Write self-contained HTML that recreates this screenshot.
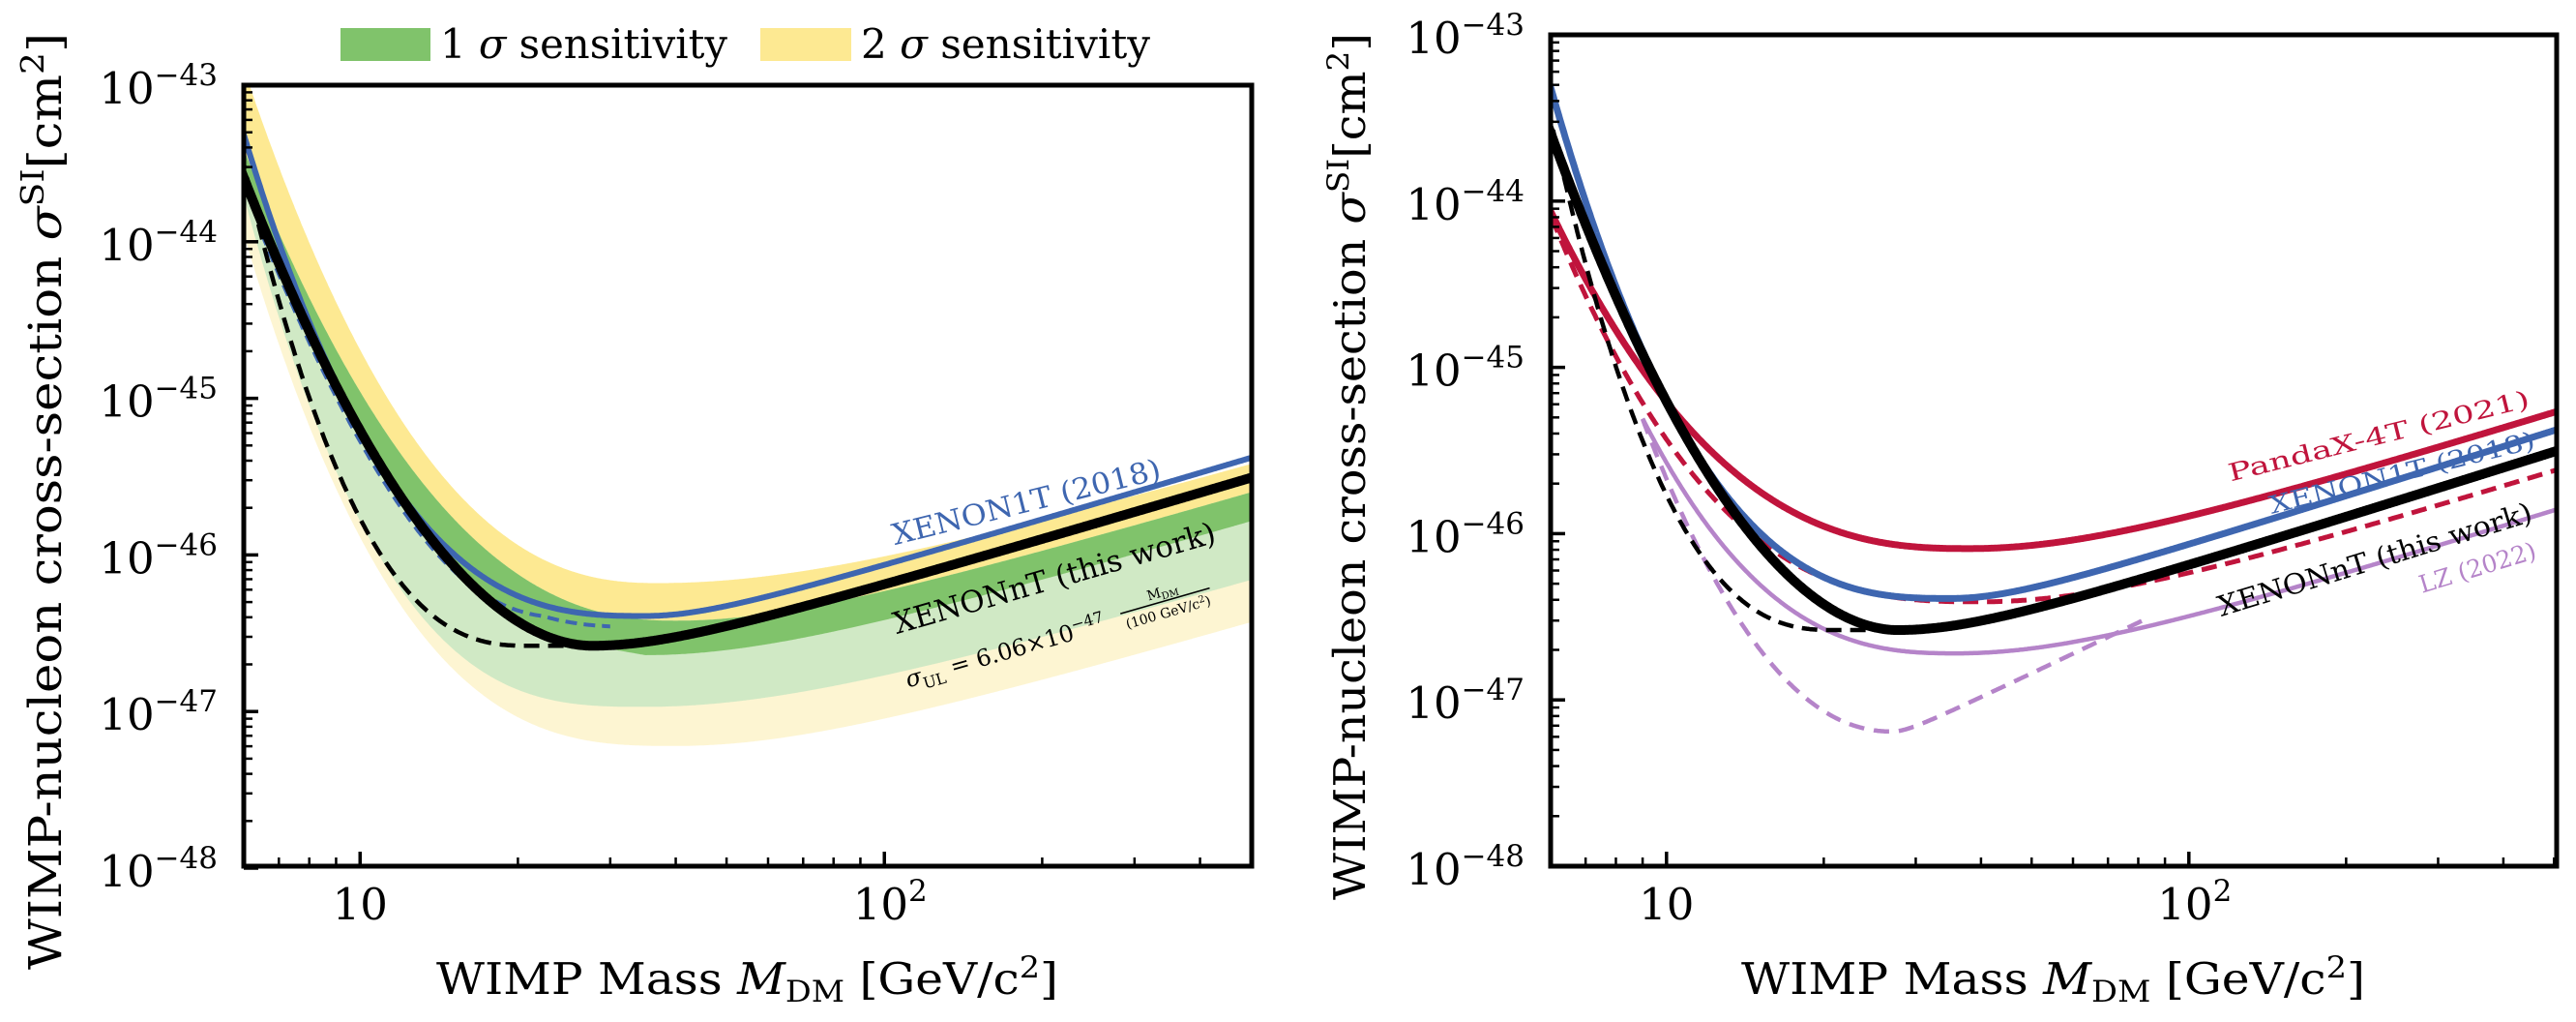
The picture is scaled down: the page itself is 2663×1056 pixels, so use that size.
<!DOCTYPE html>
<html><head><meta charset="utf-8">
<style>
html,body{margin:0;padding:0;background:#fff;}
svg{display:block;font-family:"DejaVu Serif","Liberation Serif",serif;}
</style></head>
<body>
<svg id="s" width="2663" height="1056" viewBox="0 0 2663 1056" xmlns="http://www.w3.org/2000/svg">
<defs>
<clipPath id="cL"><rect x="252" y="88" width="1042" height="807"/></clipPath>
<clipPath id="cR"><rect x="1603" y="36" width="1040" height="859"/></clipPath>
</defs>
<g id="gL" clip-path="url(#cL)"></g>
<g id="gR" clip-path="url(#cR)"></g>
<g id="ax"></g>

<rect x="352" y="29" width="93" height="34" fill="#80c36b"/>
<text x="455" y="60" font-size="42" textLength="297" lengthAdjust="spacingAndGlyphs">1 <tspan font-style="italic">σ</tspan> sensitivity</text>
<rect x="786" y="29" width="94" height="34" fill="#fde992"/>
<text x="890" y="60" font-size="42" textLength="299" lengthAdjust="spacingAndGlyphs">2 <tspan font-style="italic">σ</tspan> sensitivity</text>

<text x="451" y="1027" font-size="45" textLength="643" lengthAdjust="spacingAndGlyphs">WIMP Mass <tspan font-style="italic">M</tspan><tspan font-size="31" dy="8">DM</tspan><tspan dy="-8"> [GeV/c</tspan><tspan font-size="31" dy="-17">2</tspan><tspan dy="17">]</tspan></text>
<text x="1800" y="1027" font-size="45" textLength="645" lengthAdjust="spacingAndGlyphs">WIMP Mass <tspan font-style="italic">M</tspan><tspan font-size="31" dy="8">DM</tspan><tspan dy="-8"> [GeV/c</tspan><tspan font-size="31" dy="-17">2</tspan><tspan dy="17">]</tspan></text>

<text transform="translate(63,518) rotate(-90)" text-anchor="middle" font-size="47" textLength="968" lengthAdjust="spacingAndGlyphs">WIMP-nucleon cross-section <tspan font-style="italic">σ</tspan><tspan font-size="33" dy="-18">SI</tspan><tspan dy="18">[cm</tspan><tspan font-size="33" dy="-18">2</tspan><tspan dy="18">]</tspan></text>
<text transform="translate(1411,482) rotate(-90)" text-anchor="middle" font-size="45" textLength="896" lengthAdjust="spacingAndGlyphs">WIMP-nucleon cross-section <tspan font-style="italic">σ</tspan><tspan font-size="31" dy="-17">SI</tspan><tspan dy="17">[cm</tspan><tspan font-size="31" dy="-17">2</tspan><tspan dy="17">]</tspan></text>

<text transform="translate(1061,519) rotate(-14)" text-anchor="middle" dy="10" font-size="30" fill="#3e66b0" textLength="285" lengthAdjust="spacingAndGlyphs">XENON1T (2018)</text>
<text transform="translate(1090,598) rotate(-16)" text-anchor="middle" dy="10" font-size="31" fill="#000" textLength="345" lengthAdjust="spacingAndGlyphs">XENONnT (this work)</text>
<g transform="translate(1100,656) rotate(-16)">
<text x="-170" y="8" font-size="24"><tspan font-style="italic">σ</tspan><tspan font-size="16" dy="6">UL</tspan><tspan dy="-6"> = 6.06×10</tspan><tspan font-size="16" dy="-10">−47</tspan></text>
<text x="110" y="-10" font-size="14" text-anchor="middle">M<tspan font-size="10" dy="3">DM</tspan></text>
<line x1="62" y1="-5" x2="158" y2="-5" stroke="#000" stroke-width="1.5"/>
<text x="110" y="12" font-size="14" text-anchor="middle">(100 GeV/c<tspan font-size="10" dy="-5">2</tspan><tspan dy="5">)</tspan></text>
</g>

<text transform="translate(2459,450) rotate(-14)" text-anchor="middle" dy="9" font-size="25" fill="#c0143c" textLength="320" lengthAdjust="spacingAndGlyphs">PandaX-4T (2021)</text>
<text transform="translate(2483,488) rotate(-14)" text-anchor="middle" dy="9" font-size="25" fill="#3e66b0" textLength="282" lengthAdjust="spacingAndGlyphs">XENON1T (2018)</text>
<text transform="translate(2455,578) rotate(-17)" text-anchor="middle" dy="10" font-size="29" fill="#000" textLength="338" lengthAdjust="spacingAndGlyphs">XENONnT (this work)</text>
<text transform="translate(2561,586) rotate(-17)" text-anchor="middle" dy="9" font-size="25" fill="#b584c9" textLength="125" lengthAdjust="spacingAndGlyphs">LZ (2022)</text>
</svg>
<script>
(function(){
var NS="http://www.w3.org/2000/svg";
var L6=Math.log10(6);
var P={L:{x0:252,x1:1294,y0:88,y1:895,dx:542,dy:161.8},R:{x0:1603,x1:2643,y0:36,y1:895,dx:540,dy:171.8}};
function lg(m){return Math.log10(m);}
function U(smin,lm,k,p,w,sl){
  return function(lx){
    if(lx<lm){return smin+k*Math.pow(lm-lx,p);}
    var u=lx-lm;return smin+sl*(Math.sqrt(u*u+w*w)-w);
  };
}
var blackLow=U(-46.58,1.442,6.54,1.91,0.2,1);
function blackF(lx){
  if(lx<=1.442)return blackLow(lx);
  var u=lx-1.442;return -46.58+(Math.sqrt(u*u+0.04)-0.2);
}
var dashKF=function(lx){if(lx<1.32)return -46.58+14.5*Math.pow(1.32-lx,2.53);return -46.58;};
var blueF=U(-46.39,1.544,6.44,2.77,0.155,1);
function blueDF(lx){var w=Math.min(1,Math.max(0,(1.35-lx)/0.35));return w*blackF(lx)+(1-w)*blueF(lx)-0.07;}
var U2F=U(-46.18,1.568,5.79,2.4,0.461,1);
var U1F=U(-46.42,1.602,4.7,2.3,0.324,1);
var L1F=U(-46.97,1.544,7.19,2.96,0.418,1);
var L2F=U(-47.22,1.602,5.69,2.86,0.366,1);
var Mr=U(-46.64,lg(35),0,2,0.352,1);
function MF(lx){
  var a=1.442,b=lg(35);
  if(lx<=a)return blackF(lx);
  if(lx<b){var f=(lx-a)/(b-a);return blackF(a)*(1-f)+(-46.64)*f;}
  return Mr(lx);
}
var pandaSF=U(-46.09,1.58,3.58,2.57,0.354,1);
var pandaDF=U(-46.41,1.6,4.0,2.76,0.371,1);
var lzSF=U(-46.72,1.556,5.37,2.63,0.329,1);
var lzDF=U(-47.19,1.431,8.9,2.1,0.037,1.5);

function X(p,lx){return p.x0+(lx-L6)*p.dx;}
function Y(p,s){return p.y0+(-43-s)*p.dy;}
function samp(p,f,m0,m1){
  var a=lg(m0),b=lg(m1),N=Math.round((b-a)*500),out=[];
  for(var i=0;i<=N;i++){var lx=a+(b-a)*i/N;var y=Y(p,f(lx));if(y<-200)y=-200;out.push([X(p,lx),y]);}
  return out;
}
function str(a){return a.map(function(q){return q[0].toFixed(1)+","+q[1].toFixed(1);}).join(" ");}
function el(g,tag,attrs){var e=document.createElementNS(NS,tag);for(var k in attrs)e.setAttribute(k,attrs[k]);g.appendChild(e);return e;}
function band(g,p,fu,fl,col){var a=samp(p,fu,5.8,520),b=samp(p,fl,5.8,520).reverse();el(g,"polygon",{points:str(a.concat(b)),fill:col});}
function line(g,p,f,m0,m1,col,w,dash){var a={points:str(samp(p,f,m0,m1)),fill:"none",stroke:col,"stroke-width":w,"stroke-linejoin":"round"};if(dash)a["stroke-dasharray"]=dash;el(g,"polyline",a);}

var gL=document.getElementById("gL"),pL=P.L;
band(gL,pL,U2F,L2F,"#fdf5d2");
band(gL,pL,U2F,MF,"#fde992");
band(gL,pL,U1F,L1F,"#d0e9c5");
band(gL,pL,U1F,MF,"#80c36b");
line(gL,pL,blueDF,6.5,30,"#3e66b0",4,"12 7");
line(gL,pL,dashKF,5.8,27.7,"#000",4.5,"16 9");
line(gL,pL,blueF,5.8,520,"#3e66b0",6);
line(gL,pL,blackF,5.8,520,"#000",10);

var gR=document.getElementById("gR"),pR=P.R;
line(gR,pR,lzDF,9,82,"#b584c9",4.5,"16 10");
line(gR,pR,lzSF,9,520,"#b584c9",4.5);
line(gR,pR,pandaDF,5.8,520,"#c0143c",5,"16 9");
line(gR,pR,pandaSF,5.8,520,"#c0143c",7);
line(gR,pR,blueF,5.8,520,"#3e66b0",7);
line(gR,pR,dashKF,5.8,27.7,"#000",4.5,"16 9");
line(gR,pR,blackF,5.8,520,"#000",10);

var ax=document.getElementById("ax");
[P.L,P.R].forEach(function(p,idx){
  [6,7,8,9,10,20,30,40,50,60,70,80,90,100,200,300,400,500].forEach(function(m){var x=X(p,lg(m)),maj=(m===10||m===100);el(ax,"line",{x1:x,x2:x,y1:p.y1,y2:p.y1-(maj?15:9),stroke:"#000","stroke-width":maj?3.5:2.5});});
  for(var e=-48;e<=-43;e++){
    var y=Y(p,e);
    el(ax,"line",{x1:p.x0,x2:p.x0+15,y1:y,y2:y,stroke:"#000","stroke-width":3.5});
    if(e<-43)for(var k=2;k<=9;k++){var yy=Y(p,e+Math.log10(k));el(ax,"line",{x1:p.x0,x2:p.x0+9,y1:yy,y2:yy,stroke:"#000","stroke-width":2.5});}
    var t=el(ax,"text",{x:(idx===0?225:1576),y:y+19,"font-size":45,"text-anchor":"end"});
    t.innerHTML='10<tspan font-size="31" dy="-19">\u2212'+(-e)+'</tspan>';
  }
  var t1=el(ax,"text",{x:X(p,1),y:950,"font-size":45,"text-anchor":"middle"});t1.textContent="10";
  var t2=el(ax,"text",{x:X(p,2)+6,y:950,"font-size":45,"text-anchor":"middle"});t2.innerHTML='10<tspan font-size="31" dy="-19">2</tspan>';
  el(ax,"rect",{x:p.x0,y:p.y0,width:p.x1-p.x0,height:p.y1-p.y0,fill:"none",stroke:"#000","stroke-width":5});
});
})();
</script>
</body></html>
